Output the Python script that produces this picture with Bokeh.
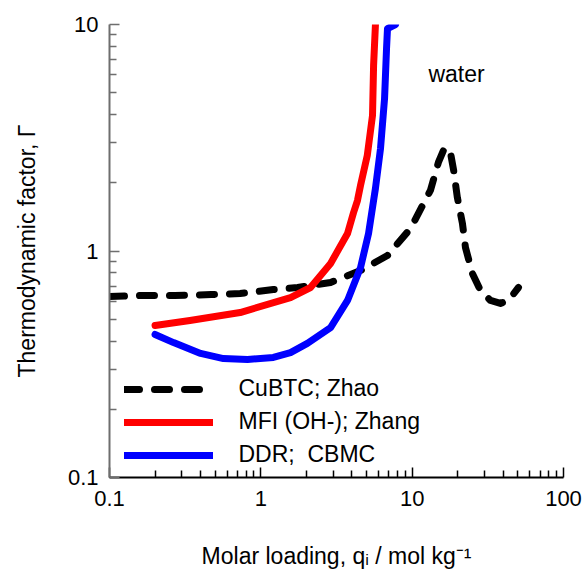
from bokeh.plotting import figure
from bokeh.models import FixedTicker, Label, Legend, LegendItem
from bokeh.embed import file_html
from bokeh.resources import INLINE

# ---- data ----
cubtc_q = [0.1, 0.16, 0.27, 0.47, 0.73, 1.21, 1.75, 2.89, 4.56, 6.87, 9.75, 13.2, 14.9,
           16.1, 17.7, 18.8, 19.9, 21.5, 22.5, 25.0, 28.3, 32.9, 38.3, 43.3, 50.4]
cubtc_gamma = [0.629, 0.636, 0.636, 0.642, 0.649, 0.676, 0.690, 0.726, 0.820, 0.955, 1.257, 1.85, 2.46,
               2.78, 2.84, 2.27, 1.72, 1.32, 1.036, 0.796, 0.669, 0.605, 0.587, 0.605, 0.690]

mfi_q = [0.2, 0.34, 0.73, 1.57, 2.13, 2.89, 3.74, 4.10, 4.35, 4.56, 5.05, 5.47, 5.56, 5.72]
mfi_gamma = [0.469, 0.493, 0.535, 0.623, 0.690, 0.881, 1.195, 1.479, 1.67, 1.95, 2.64, 3.97, 6.59, 10.0]

ddr_q = [0.2, 0.265, 0.40, 0.566, 0.817, 1.21, 1.57, 2.03, 2.89, 3.74, 4.56, 5.15, 5.56, 5.72,
         6.18, 6.57, 6.77, 6.87, 7.76]
ddr_gamma = [0.428, 0.394, 0.353, 0.335, 0.332, 0.339, 0.356, 0.391, 0.459, 0.605, 0.846, 1.195, 1.67,
             1.89, 2.84, 4.71, 7.83, 9.6, 10.0]

series_names = ["CuBTC; Zhao", "MFI (OH-); Zhang", "DDR;  CBMC"]
series_colors = ["black", "#ff0000", "#0000ff"]

x_title = "Molar loading, q\u1d62 / mol kg\u207b\u00b9"
y_title = "Thermodynamic factor, \u0393"
note_text = "water"

x_ticks = [0.1, 1, 10, 100]
x_tick_labels = ["0.1", "1", "10", "100"]
x_minor = [0.2, 0.3, 0.4, 0.5, 0.6, 0.7, 0.8, 0.9, 2, 3, 4, 5, 6, 7, 8, 9,
           20, 30, 40, 50, 60, 70, 80, 90]
y_ticks = [0.1, 1, 10]
y_tick_labels = ["0.1", "1", "10"]
y_minor = [0.2, 0.3, 0.4, 0.5, 0.6, 0.7, 0.8, 0.9, 2, 3, 4, 5, 6, 7, 8, 9]

FONT = "Liberation Sans"

p = figure(width=587, height=575, x_axis_type="log", y_axis_type="log",
           x_range=(0.1, 100), y_range=(0.1, 10),
           output_backend="svg", toolbar_location=None,
           min_border_left=109, min_border_right=24, min_border_top=24, min_border_bottom=98)
p.outline_line_color = None
p.xgrid.visible = False
p.ygrid.visible = False

# axes
p.xaxis.ticker = FixedTicker(ticks=x_ticks, minor_ticks=x_minor)
p.yaxis.ticker = FixedTicker(ticks=y_ticks, minor_ticks=y_minor)
p.xaxis.major_label_overrides = {t: l for t, l in zip(x_ticks, x_tick_labels)}
p.yaxis.major_label_overrides = {t: l for t, l in zip(y_ticks, y_tick_labels)}
for ax in (p.xaxis, p.yaxis):
    ax.major_tick_in = 10
    ax.major_tick_out = 0
    ax.minor_tick_in = 7
    ax.minor_tick_out = 0
    ax.axis_line_width = 2
    ax.major_tick_line_width = 1.5
    ax.minor_tick_line_width = 1.5
    ax.major_label_text_font = FONT
    ax.major_label_text_font_size = "22px"
    ax.major_label_text_color = "black"
    ax.axis_label_text_font = FONT
    ax.axis_label_text_font_size = "23px"
    ax.axis_label_text_font_style = "normal"
    ax.axis_label_text_color = "black"
p.xaxis.axis_line_color = "black"
p.xaxis.major_tick_line_color = "black"
p.xaxis.minor_tick_line_color = "black"
p.yaxis.axis_line_color = "#6e6e6e"
p.yaxis.major_tick_line_color = "#6e6e6e"
p.yaxis.minor_tick_line_color = "#6e6e6e"
p.xaxis.major_label_standoff = 13
p.yaxis.major_label_standoff = 11
p.xaxis.axis_label = x_title
p.yaxis.axis_label = y_title
p.xaxis.axis_label_standoff = 34
p.yaxis.axis_label_standoff = 25

# curves
r1 = p.line(cubtc_q, cubtc_gamma, line_color=series_colors[0], line_width=7,
            line_dash="15 15", line_cap="round", line_join="round")
r2 = p.line(mfi_q, mfi_gamma, line_color=series_colors[1], line_width=7,
            line_cap="round", line_join="round")
r3 = p.line(ddr_q, ddr_gamma, line_color=series_colors[2], line_width=7,
            line_cap="round", line_join="round")

legend = Legend(items=[LegendItem(label=series_names[0], renderers=[r1]),
                       LegendItem(label=series_names[1], renderers=[r2]),
                       LegendItem(label=series_names[2], renderers=[r3])],
                location=(14.5, 9), margin=0, padding=0, spacing=6,
                glyph_width=89, glyph_height=26, label_height=26, label_standoff=26,
                label_text_font=FONT, label_text_font_size="23px",
                label_text_color="black",
                border_line_color=None, background_fill_alpha=0)
p.add_layout(legend, "center")

# annotation text inside the frame
p.add_layout(Label(x=347, y=404, x_units="screen", y_units="screen", text=note_text,
                   text_align="center", text_baseline="alphabetic",
                   text_font=FONT, text_font_size="23px", text_color="black"))

open("out.html", "w").write(file_html(p, INLINE))
